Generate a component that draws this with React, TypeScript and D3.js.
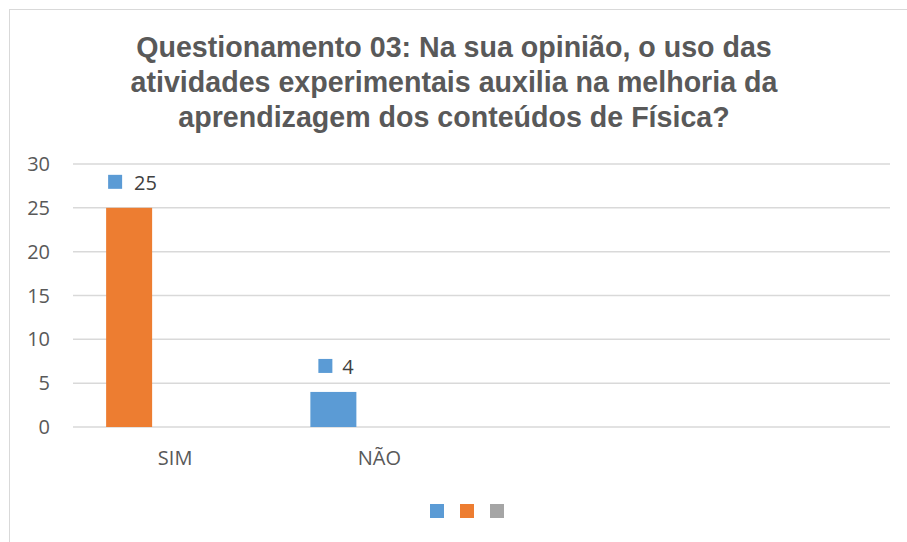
import React, { useEffect, useRef } from "react";
import * as d3 from "d3";

// chart data
const titleLines = [
  "Questionamento 03: Na sua opinião, o uso das",
  "atividades experimentais auxilia na melhoria da",
  "aprendizagem dos conteúdos de Física?",
];
const categories = ["SIM", "NÃO", "", " "];
const seriesNames = ["Série 1", "Série 2", "Série 3"];
const seriesColors = ["#5b9bd5", "#ed7d31", "#a5a5a5"];
// first series, one value per category (empty categories have no value)
const values = [25, 4, null, null];
const pointColors = ["#ed7d31", "#5b9bd5", "#5b9bd5", "#5b9bd5"];
const yTicks = [0, 5, 10, 15, 20, 25, 30];

const W = 907;
const H = 542;

const App = () => {
  const ref = useRef<SVGSVGElement>(null);

  useEffect(() => {
    const svg = d3.select(ref.current);
    svg.selectAll("*").remove();

    const left = 73, right = 890, top = 164, bottom = 427;
    const textColor = "#595959";
    const font = "'Open Sans', sans-serif";

    // chart frame
    svg.append("rect")
      .attr("x", 9.5).attr("y", 9.5)
      .attr("width", W).attr("height", H)
      .attr("fill", "white").attr("stroke", "#d9d9d9");

    // title
    svg.append("text")
      .attr("text-anchor", "middle")
      .attr("font-family", "'Liberation Sans', Arial, sans-serif")
      .attr("font-weight", "bold")
      .attr("font-size", 28.6)
      .attr("fill", textColor)
      .selectAll("tspan")
      .data(titleLines)
      .join("tspan")
      .attr("x", 454)
      .attr("y", (d, i) => 57 + i * 35)
      .text(d => d);

    const x = d3.scaleBand().domain(categories).range([left, right]);
    const slot = d3.scaleBand().domain(seriesNames).range([0, x.bandwidth()]).paddingOuter(0.72);
    const y = d3.scaleLinear().domain([0, 30]).range([bottom, top]);

    // gridlines
    svg.append("g")
      .selectAll("line")
      .data(yTicks)
      .join("line")
      .attr("x1", left).attr("x2", right)
      .attr("y1", d => y(d)).attr("y2", d => y(d))
      .attr("stroke", "#d9d9d9").attr("stroke-width", 1.5);

    // y tick labels
    svg.append("g")
      .selectAll("text")
      .data(yTicks)
      .join("text")
      .attr("x", 50)
      .attr("y", d => y(d) + 7)
      .attr("text-anchor", "end")
      .attr("font-family", font)
      .attr("font-size", 20)
      .attr("fill", textColor)
      .text(d => d);

    // bars
    const barData = categories.map((c, i) => ({ c, v: values[i], color: pointColors[i] }))
      .filter(d => d.v != null) as { c: string; v: number; color: string }[];

    svg.append("g")
      .selectAll("rect")
      .data(barData)
      .join("rect")
      .attr("x", d => x(d.c)! + slot(seriesNames[0])!)
      .attr("y", d => y(d.v))
      .attr("width", slot.bandwidth())
      .attr("height", d => y(0) - y(d.v))
      .attr("fill", d => d.color);

    // data labels with legend key
    const lab = svg.append("g")
      .selectAll("g")
      .data(barData)
      .join("g")
      .attr("transform", d => {
        const cx = x(d.c)! + slot(seriesNames[0])! + slot.bandwidth() / 2;
        return `translate(${cx},${y(d.v) - 26})`;
      });
    lab.append("rect")
      .attr("x", d => (String(d.v).length > 1 ? -21 : -15))
      .attr("y", -7)
      .attr("width", 14).attr("height", 14)
      .attr("fill", seriesColors[0]);
    lab.append("text")
      .attr("x", d => (String(d.v).length > 1 ? 5 : 9))
      .attr("y", 8)
      .attr("font-family", font)
      .attr("font-size", 20)
      .attr("fill", "#404040")
      .text(d => d.v);

    // category labels
    svg.append("g")
      .selectAll("text")
      .data(categories)
      .join("text")
      .attr("x", d => x(d)! + x.bandwidth() / 2)
      .attr("y", 465)
      .attr("text-anchor", "middle")
      .attr("font-family", font)
      .attr("font-size", 20)
      .attr("fill", textColor)
      .text(d => d);

    // legend
    svg.append("g")
      .selectAll("rect")
      .data(seriesNames)
      .join("rect")
      .attr("x", (d, i) => 430 + i * 30)
      .attr("y", 504)
      .attr("width", 14).attr("height", 14)
      .attr("fill", (d, i) => seriesColors[i]);
  }, []);

  return (
    <svg ref={ref} width={W} height={H} style={{ position: "absolute", left: 0, top: 0 }} />
  );
};

export default App;
